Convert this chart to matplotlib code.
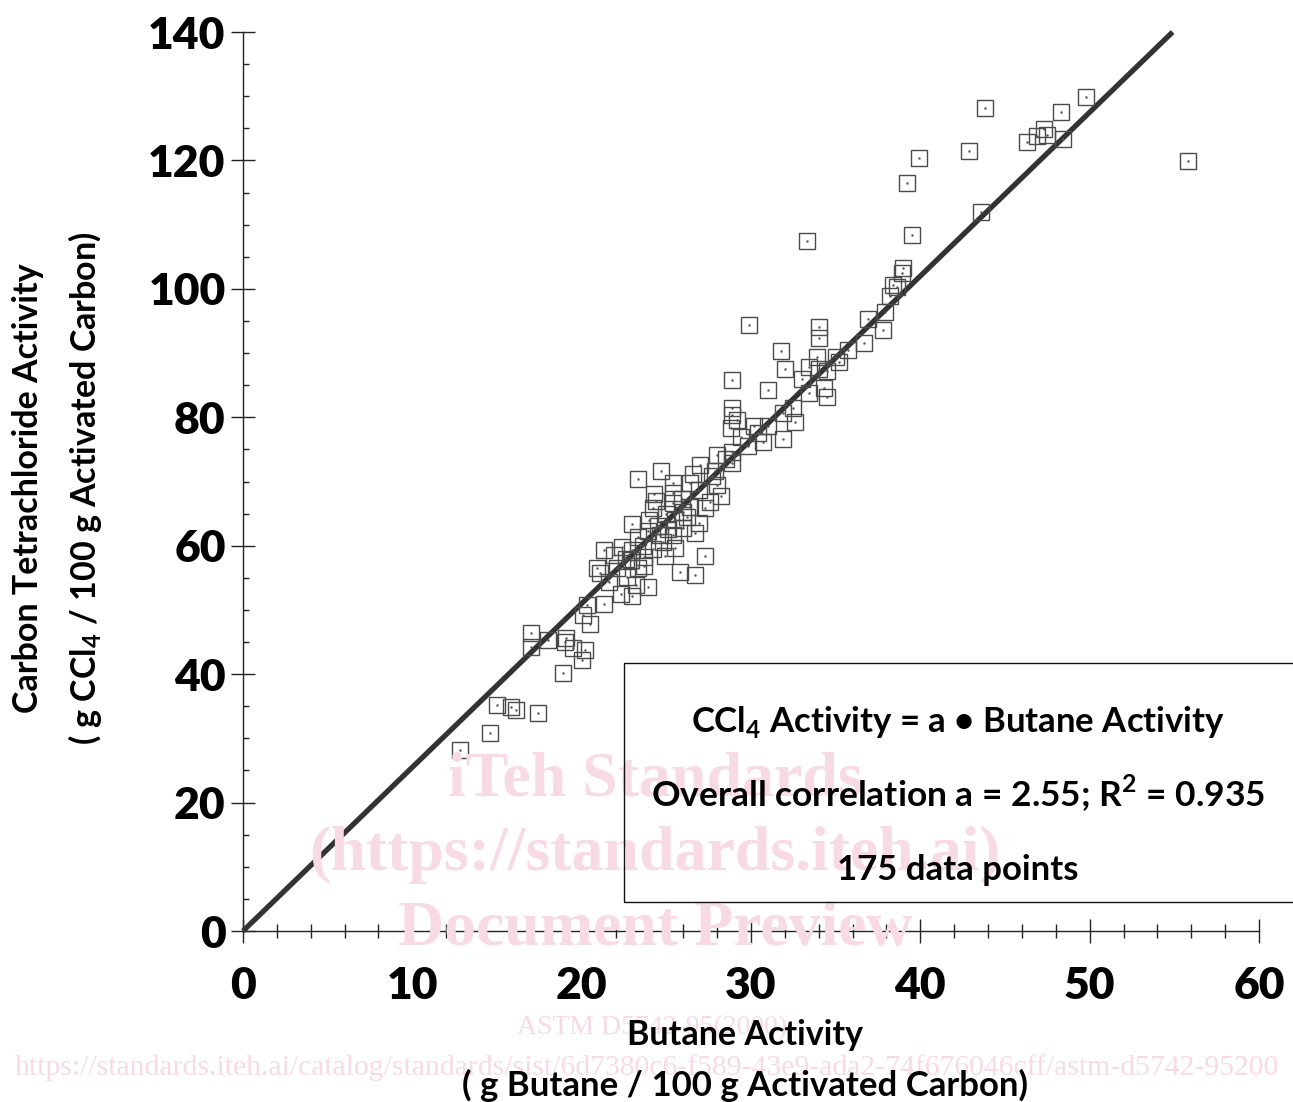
import matplotlib
matplotlib.use("Agg")
import matplotlib.pyplot as plt
from matplotlib.patches import Rectangle
from matplotlib.ticker import MultipleLocator
import numpy as np

plt.rcParams['font.family'] = ['Lato', 'DejaVu Sans']
plt.rcParams['mathtext.fontset'] = 'custom'
plt.rcParams['mathtext.rm'] = 'Lato'
plt.rcParams['mathtext.bf'] = 'Lato:bold'

# ---- data ----
butane = [49.8, 48.3, 43.8, 55.8, 39.9, 42.9, 39.2, 39.5, 43.6, 46.3, 46.9, 47.3, 47.5, 48.4,
          39.0, 38.9, 38.4, 38.6, 38.2, 37.9, 36.9, 37.8, 36.7, 35.7, 33.3, 29.9, 34.0, 34.0,
          31.8, 33.9, 35.0, 32.0, 33.4, 34.0, 34.5, 28.9, 31.0, 34.3, 34.5, 33.4, 28.9, 28.9,
          28.8, 32.5, 32.6, 31.9, 31.0, 30.2, 30.7, 31.9, 29.8, 28.9, 28.0, 27.0, 28.9, 24.7,
          23.3, 28.0, 28.2, 26.9, 25.4, 25.4, 24.3, 27.3, 26.4, 24.2, 25.4, 24.0, 23.0, 25.5,
          26.2, 26.9, 26.7, 23.9, 24.6, 25.4, 23.3, 21.9, 21.3, 23.0, 24.2, 25.5, 23.7, 24.9,
          27.3, 20.9, 22.1, 23.3, 25.8, 26.7, 21.6, 23.2, 23.9, 22.3, 23.0, 21.3, 20.3, 17.0,
          17.0, 18.0, 19.0, 20.2, 20.0, 19.1, 18.9, 20.1, 15.0, 16.1, 15.8, 17.4, 14.6, 12.8,
          22.9, 24.5, 25.1, 26.0, 22.6, 24.8, 25.9, 27.6, 26.4, 23.7, 22.7, 29.4, 30.4, 27.7,
          26.6, 25.0, 24.4, 23.6, 22.4, 26.0, 28.5, 29.2, 33.0, 35.2, 20.5, 21.1, 19.5, 27.9]
ccl4 = [129.9, 127.5, 128.2, 119.9, 120.4, 121.5, 116.5, 108.4, 112.0, 122.9, 123.8, 124.9, 124.0, 123.3,
        103.3, 102.5, 100.6, 100.3, 98.9, 96.4, 95.3, 93.6, 91.6, 90.5, 107.5, 94.4, 94.1, 92.4,
        90.3, 89.4, 89.4, 87.5, 87.9, 87.5, 87.2, 85.8, 84.3, 84.6, 83.2, 83.8, 81.5, 80.4,
        78.3, 81.5, 79.3, 80.7, 78.7, 78.7, 76.2, 76.6, 75.5, 74.6, 74.1, 72.6, 72.9, 71.6,
        70.4, 69.5, 67.7, 68.7, 69.8, 68.2, 68.1, 65.9, 66.0, 65.9, 66.7, 64.0, 63.4, 64.0,
        64.5, 63.5, 62.0, 62.3, 61.7, 61.7, 61.4, 58.6, 59.3, 59.3, 59.5, 59.6, 58.2, 58.4,
        58.4, 56.5, 56.5, 56.5, 55.9, 55.4, 54.4, 53.9, 53.6, 52.5, 52.2, 50.9, 50.8, 46.4,
        44.2, 45.3, 45.0, 43.8, 42.2, 45.6, 40.2, 49.2, 35.2, 34.4, 34.9, 34.0, 30.8, 28.2,
        57.8, 63.0, 62.6, 65.3, 58.0, 60.6, 67.3, 66.8, 69.7, 56.8, 55.1, 76.9, 77.6, 70.8,
        71.2, 65.0, 67.0, 60.0, 59.8, 62.8, 73.5, 79.5, 86.0, 88.6, 47.8, 55.8, 44.0, 71.6]

slope_a = 2.55
fit_x = [0.0, 54.9]
fit_y = [slope_a * v for v in fit_x]

x_ticks = [0, 10, 20, 30, 40, 50, 60]
y_ticks = [0, 20, 40, 60, 80, 100, 120, 140]

# ---- figure ----
fig = plt.figure(figsize=(12.93, 11.02), dpi=100)
ax = fig.add_axes([243/1293, 1-931/1102, (1259-243)/1293, (931-32)/1102])
ax.set_xlim(0, 60)
ax.set_ylim(0, 140)
for s in ['top', 'right']:
    ax.spines[s].set_visible(False)
for s in ['left', 'bottom']:
    ax.spines[s].set_linewidth(1.0)
    ax.spines[s].set_color('#222222')

ax.set_xticks(x_ticks)
ax.set_yticks(y_ticks)
ax.xaxis.set_minor_locator(MultipleLocator(2))
ax.yaxis.set_minor_locator(MultipleLocator(5))
ax.tick_params(axis='both', which='major', direction='inout', length=17, width=1.0,
               color='#222222', labelsize=32)
ax.tick_params(axis='x', which='major', pad=17)
ax.tick_params(axis='y', which='major', pad=4)
ax.tick_params(axis='x', which='minor', direction='inout', length=10, width=1.0, color='#222222')
ax.tick_params(axis='y', which='minor', direction='in', length=4, width=1.0, color='#222222')
for lab in ax.get_xticklabels() + ax.get_yticklabels():
    lab.set_fontweight('heavy')

# fit line
ax.plot(fit_x, fit_y, color='#333333', lw=3.8, solid_capstyle='butt', clip_on=False, zorder=3)

# data squares
ax.plot(butane, ccl4, linestyle='none', marker='s', markersize=11, markerfacecolor='none',
        markeredgecolor='#4a4a4a', markeredgewidth=1.0, zorder=4)
ax.plot(butane, ccl4, linestyle='none', marker='.', markersize=1.5, color='#555555', zorder=4)

# watermark (behind)
wm = '#f8dbe2'
fig.text(655/1293, 1-780/1102, 'iTeh Standards', ha='center', va='center', fontsize=46,
         family='Liberation Serif', weight='bold', color=wm, zorder=0)
fig.text(655/1293, 1-855/1102, '(https://standards.iteh.ai)', ha='center', va='center', fontsize=46,
         family='Liberation Serif', weight='bold', color=wm, zorder=0)
fig.text(655/1293, 1-930/1102, 'Document Preview', ha='center', va='center', fontsize=46,
         family='Liberation Serif', weight='bold', color=wm, zorder=0)
fig.text(652/1293, 1-1028/1102, 'ASTM D5742-95(2000)', ha='center', va='center', fontsize=20,
         family='Liberation Serif', color=wm, zorder=0)
fig.text(0.5, 1-1068/1102,
         'https://standards.iteh.ai/catalog/standards/sist/6d7380c6-f589-43e9-ada2-74f676046cff/astm-d5742-95200',
         ha='center', va='center', fontsize=21.3, family='Liberation Serif', color=wm, zorder=0)

# annotation box
box = Rectangle((624/1293, 1-902/1102), 0.6, (902-663)/1102, transform=fig.transFigure,
                facecolor='none', edgecolor='#111111', lw=1.0, clip_on=False, zorder=5)
fig.patches.append(box)
fig.text(958/1293, 1-722/1102, r'CCl$_\mathbf{4}$ Activity = a • Butane Activity', ha='center',
         va='center', fontsize=25, weight='bold', zorder=6)
fig.text(958/1293, 1-793/1102, r'Overall correlation a = 2.55; R$^\mathbf{2}$ = 0.935', ha='center',
         va='center', fontsize=25.5, weight='bold', zorder=6)
fig.text(958/1293, 1-870/1102, '175 data points', ha='center', va='center', fontsize=25,
         weight='bold', zorder=6)

# axis labels
fig.text(745/1293, 1-1035/1102, 'Butane Activity', ha='center', va='center', fontsize=24.5, weight='bold')
fig.text(745/1293, 1-1085/1102, '( g Butane / 100 g Activated Carbon)', ha='center', va='center',
         fontsize=25, weight='bold')
fig.text(28/1293, 1-488/1102, 'Carbon Tetrachloride Activity', ha='center', va='center',
         rotation=90, fontsize=24.5, weight='bold')
fig.text(85/1293, 1-488/1102, r'( g CCl$_\mathbf{4}$ / 100 g Activated Carbon)', ha='center',
         va='center', rotation=90, fontsize=24.5, weight='bold')

fig.savefig('out.png', dpi=100)
